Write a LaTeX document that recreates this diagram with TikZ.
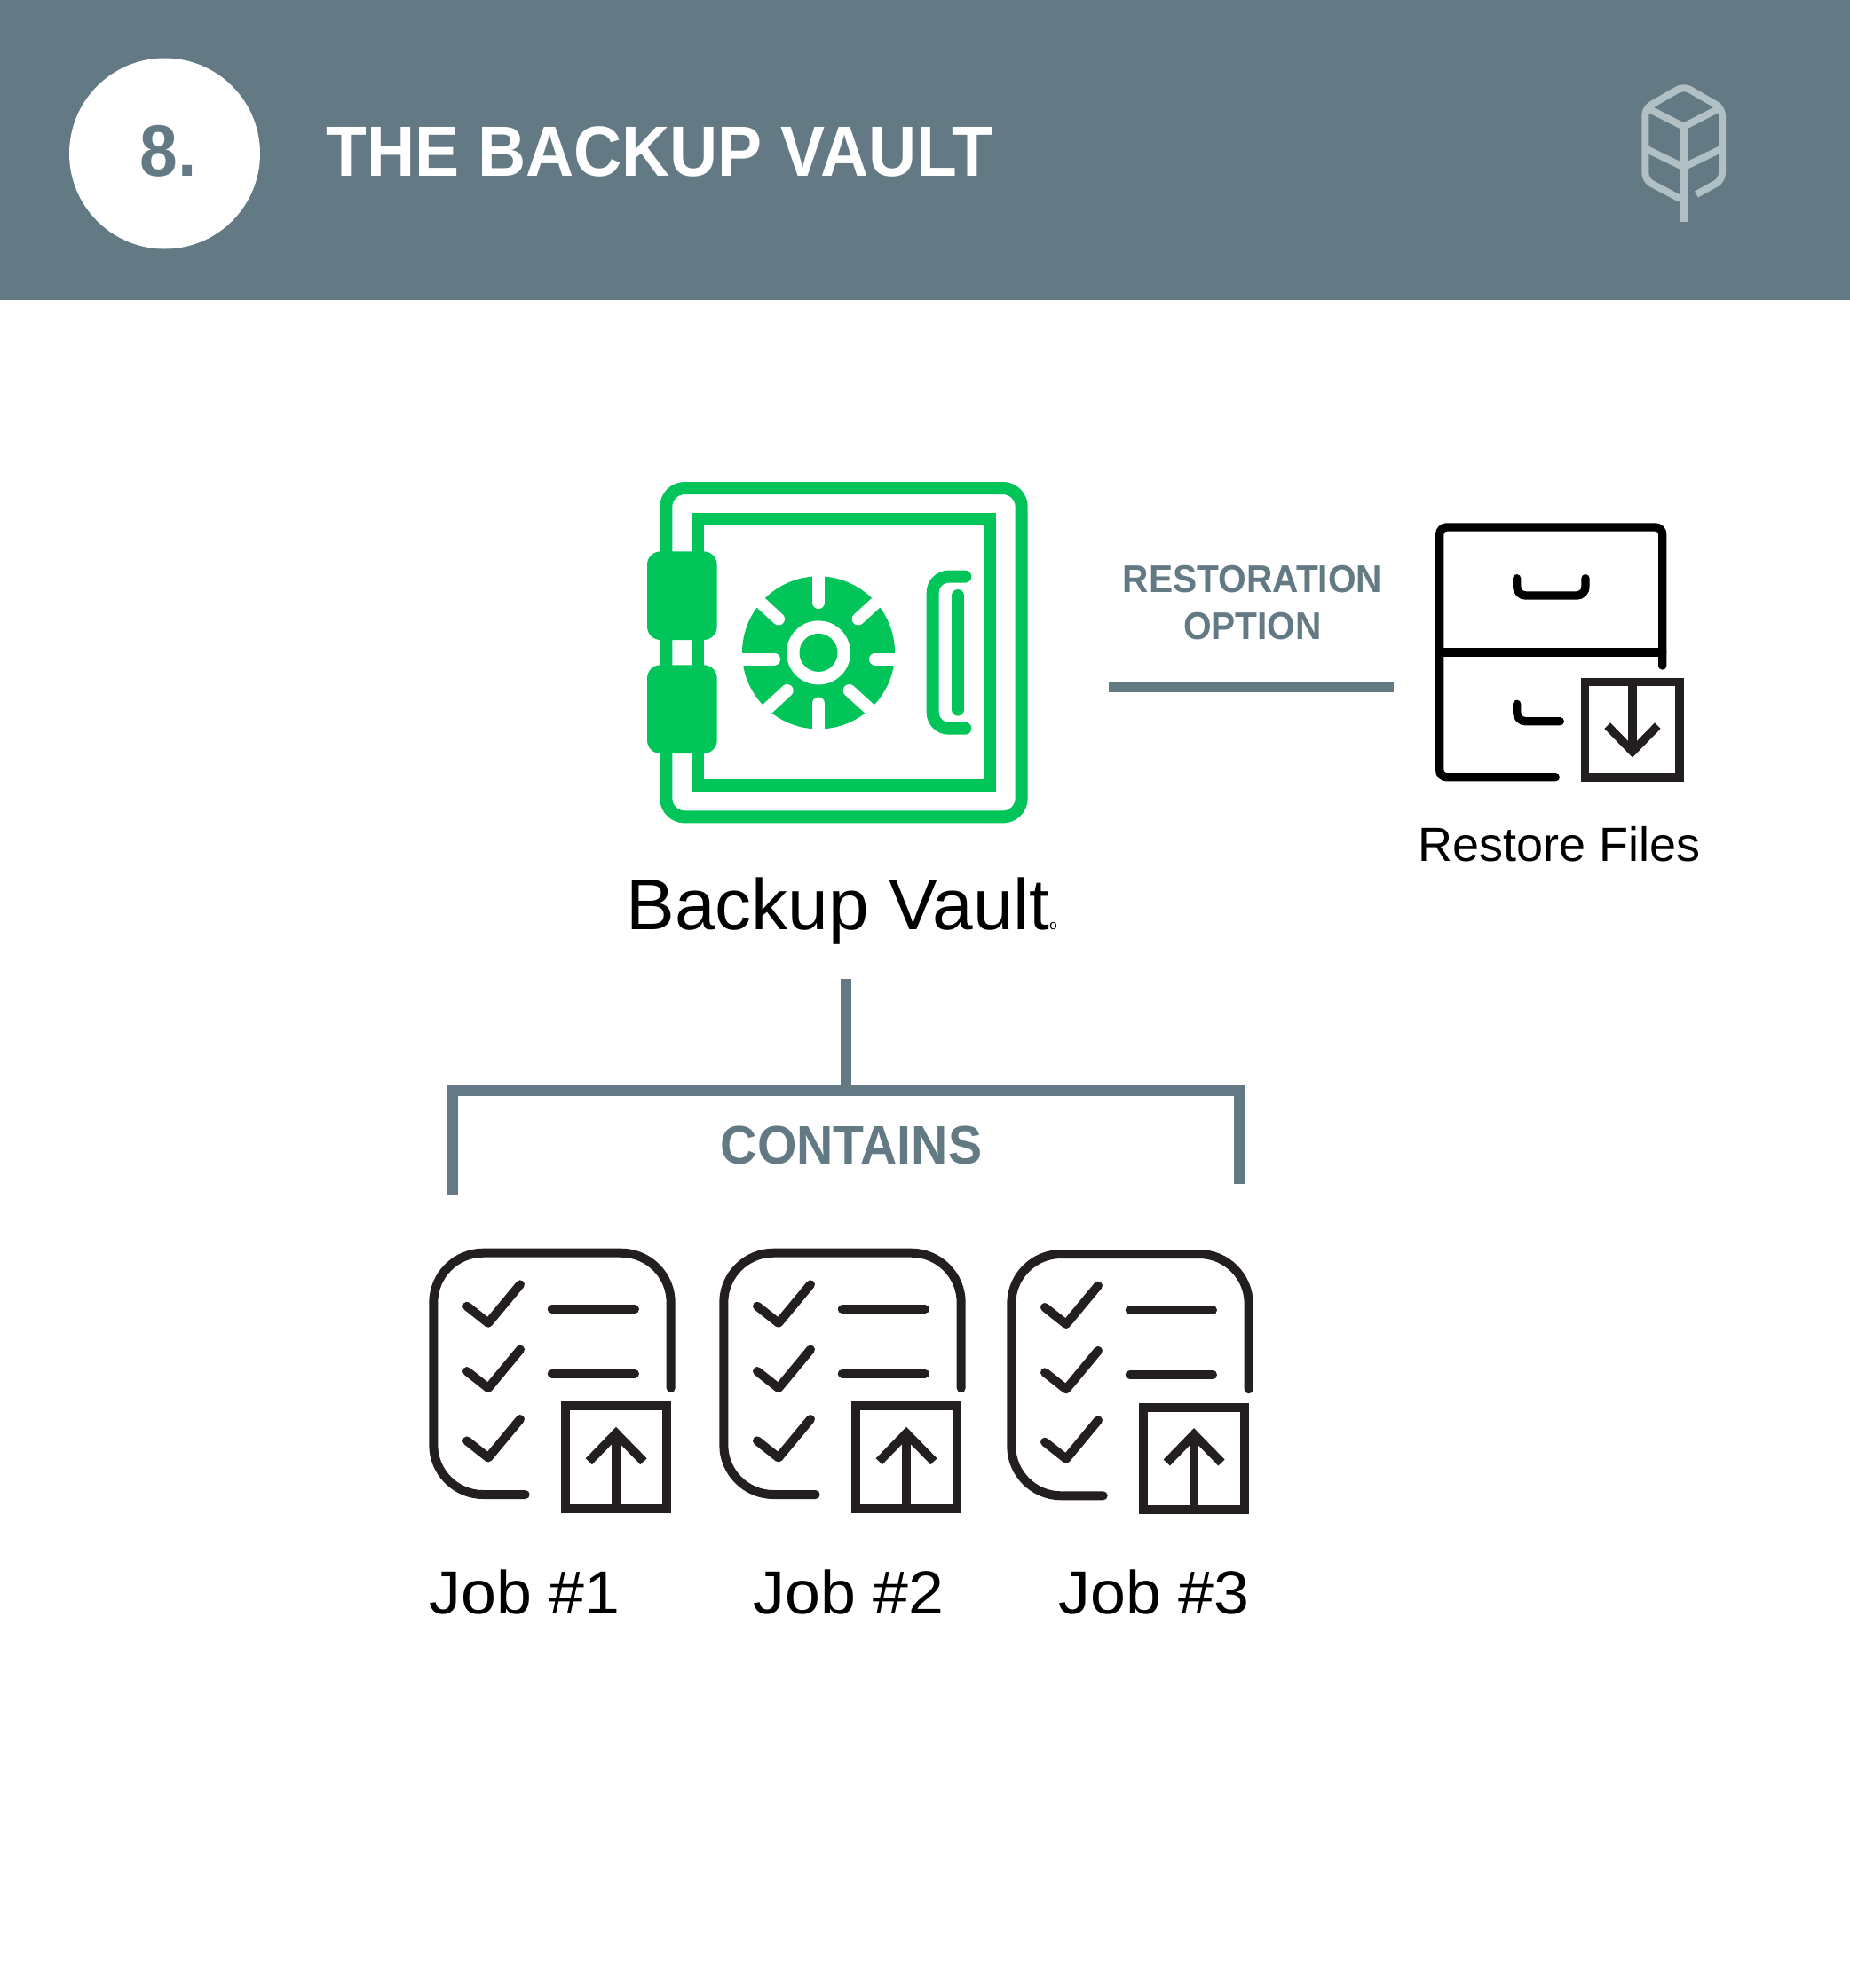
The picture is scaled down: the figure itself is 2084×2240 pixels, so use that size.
\documentclass[tikz,border=0pt]{standalone}
\usepackage{fontspec}
\setmainfont{Liberation Sans}
\newfontfamily\narrowfont[FakeStretch=0.9375]{Liberation Sans}
\newfontfamily\vaultfont[FakeStretch=1.013]{Liberation Sans}
\newfontfamily\jobfont[FakeStretch=1.045]{Liberation Sans}
\usetikzlibrary{positioning,calc}
\definecolor{vaultSlate}{HTML}{637A84}
\definecolor{vaultGreen}{HTML}{02C55A}
\definecolor{vaultInk}{HTML}{231F20}
\definecolor{vaultLeaf}{HTML}{B1C0C4}

\begin{document}
\begin{tikzpicture}[
          x=0.5pt, y=-0.5pt,
          lbl/.style={anchor=base west, inner sep=0pt, text=black},
          head/.style={lbl, text=white, font=\narrowfont\bfseries\fontsize{40}{40}\selectfont},
          slatetext/.style={inner sep=0pt, text=vaultSlate, font=\narrowfont\bfseries},
          bar/.style={draw=vaultSlate, line width=6pt},
          safe/.style={draw=vaultGreen, line width=7pt, line cap=round},
          gap/.style={draw=white, line width=7pt, line cap=round},
          ink/.style={draw=black, line width=4.7pt, line cap=round},
          tray/.style={draw=vaultInk, line width=4.7pt},
          chk/.style={draw=vaultInk, line width=5pt, line cap=round, line join=round},
          leaf/.style={draw=vaultLeaf, line width=4pt, line join=round}
        ]
          \useasboundingbox (0,0) rectangle (2084,2240);
          % header
          \fill[vaultSlate] (0,0) rectangle (2084,338);
          \node[circle, fill=white, minimum size=107.5pt, inner sep=0pt] (badge) at (185.5,173) {};
          \node[lbl, text=vaultSlate, font=\narrowfont\bfseries\fontsize{41}{41}\selectfont] (num) at (157,198.5) {8.};
          \node[head] (title) at (367,198.5) {THE BACKUP VAULT};
          % leaf logo
          \draw[leaf, rounded corners=4pt] (1892.7,224) -- (1853.3,203) -- (1853.3,122) -- (1896.7,97) -- (1940,122) -- (1940,203) -- (1911,219);
          \draw[leaf] (1858,123) -- (1896.7,142.7) -- (1935,123);
          \draw[leaf] (1853.3,167.3) -- (1896.7,188.3) -- (1940,167.3);
          \draw[leaf] (1896.7,142.7) -- (1896.7,250);
          % safe
          \draw[safe, rounded corners=10.5pt] (750.3,550) rectangle (1150.7,920.4);
          \draw[safe, line cap=butt] (786,585.4) rectangle (1115.3,885);
          \fill[vaultGreen, rounded corners=7.5pt] (729,621.4) rectangle (807.7,721);
          \fill[vaultGreen, rounded corners=7.5pt] (729,749.3) rectangle (807.7,849);
          \fill[vaultGreen] (922,735.4) circle [radius=86];
          \foreach \ax/\ay/\bx/\by in {922/630/922/679, 922/840/922/792.5, 825/742.5/872/742.5, 1019/742.5/986/742.5,
                                       845/668/877/697.5, 999/668/966.7/697.5, 850/812/886.7/778, 994/812/956.7/778}
            \draw[gap] (\ax,\ay) -- (\bx,\by);
          \fill[white] (922,735.4) circle [radius=36];
          \fill[vaultGreen] (922,735.4) circle [radius=21.5];
          \draw[safe, rounded corners=9pt] (1087.3,649.6) -- (1050.7,649.6) -- (1050.7,820.7) -- (1087.3,820.7);
          \draw[safe] (1079.3,671) -- (1079.3,799.6);
          \node[lbl, font=\vaultfont\fontsize{40.5}{40.5}\selectfont] (vault) at (705,1047.5) {Backup Vault};
          \node[lbl, font=\fontsize{7.5}{7.5}\selectfont] (dot) at (1182,1047.5) {o};
          % restoration link
          \coordinate (linkw) at (1249,774);
          \coordinate (linke) at (1570,774);
          \draw[bar] (linkw) -- (linke);
          \node[slatetext, align=center, font=\narrowfont\bfseries\fontsize{21.7}{26.5}\selectfont, anchor=base] (restore) at (1411,720.7) {RESTORATION\\OPTION};
          % filing cabinet
          \draw[ink, rounded corners=4pt] (1872.7,750) -- (1872.7,594) -- (1621.7,594) -- (1621.7,875.7) -- (1752.3,875.7);
          \draw[ink] (1621.7,735) -- (1872.7,735);
          \draw[ink, rounded corners=5pt] (1708.7,651.7) -- (1708.7,671) -- (1786,671) -- (1786,651.7);
          \draw[ink, rounded corners=5pt] (1708.7,793.3) -- (1708.7,812.7) -- (1757.3,812.7);
          \draw[tray] (1785.7,768.7) rectangle (1892,876);
          \draw[tray] (1839,768.7) -- (1839,846);
          \draw[tray] (1810.7,817.7) -- (1839,846.7) -- (1867.3,817.7);
          \node[lbl, font=\fontsize{27}{27}\selectfont] (files) at (1597,970) {Restore Files};
          % tree down to the jobs
          \coordinate (stemtop) at (953,1103);
          \coordinate (stemfoot) at (953,1229.3);
          \coordinate (legl) at (510,1346);
          \coordinate (legr) at (1396,1334);
          \draw[bar] (stemtop) -- (stemfoot);
          \draw[bar] (legl) -- (510,1229.3) -- (1396,1229.3) -- (legr);
          \node[slatetext, font=\narrowfont\bfseries\fontsize{30.5}{30.5}\selectfont, anchor=base] (contains) at (959,1311.7) {CONTAINS};
          % job sheets
          \foreach \dx/\dy/\lx/\job in {0/0/483/1, 327/0/848/2, 651/1.3/1192/3} {
            \begin{scope}[shift={(\dx,\dy)}]
              \draw[chk, rounded corners=28pt] (591.7,1684) -- (488.3,1684) -- (488.3,1411.7) -- (755.7,1411.7) -- (755.7,1564);
              \foreach \off in {0,73.3,151.7} {
                \draw[chk] (526,1471.7+\off) -- (550,1490.7+\off) -- (586,1447.3+\off);
              }
              \draw[chk] (621.7,1475) -- (715,1475);
              \draw[chk] (621.7,1547.7) -- (715,1547.7);
              \draw[tray, line width=5pt] (637.3,1584.3) rectangle (750.7,1699.7);
              \draw[tray, line width=5pt] (694,1699.7) -- (694,1616);
              \draw[tray, line width=5pt] (663.3,1646.7) -- (694,1615) -- (725,1646.7);
            \end{scope}
            \node[lbl, font=\jobfont\fontsize{34.3}{34.3}\selectfont] (job\job) at (\lx,1818) {Job \#\job};
          }
        \end{tikzpicture}
\end{document}
